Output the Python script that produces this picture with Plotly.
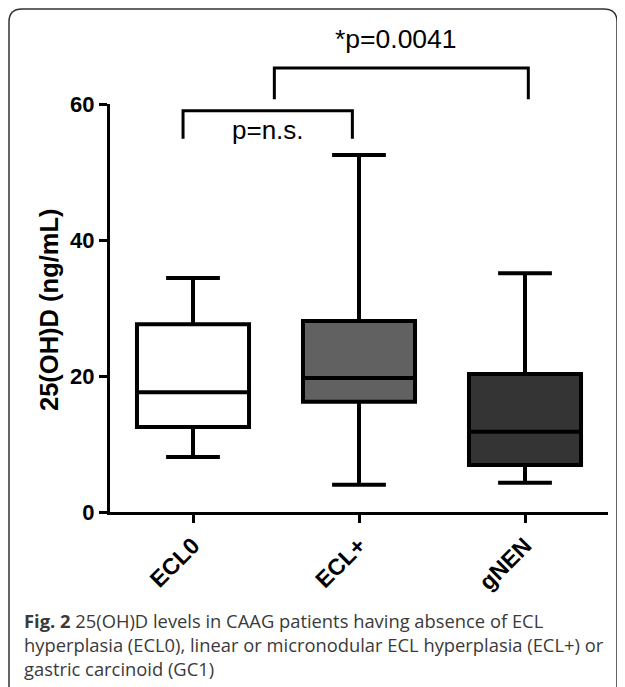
import plotly.graph_objects as go

categories = ["ECL0", "ECL+", "gNEN"]
lower_whisker = [8.1, 4.0, 4.3]
q1_values = [12.5, 16.2, 6.9]
median_values = [17.6, 19.7, 11.8]
q3_values = [27.6, 28.1, 20.3]
upper_whisker = [34.4, 52.5, 35.1]
fill_colors = ["#ffffff", "#616161", "#343434"]
y_ticks = [0, 20, 40, 60]

ns_text = "p=n.s."
sig_text = "*p=0.0041"
y_title = "25(OH)D (ng/mL)"
caption = ("<b>Fig. 2</b> 25(OH)D levels in CAAG patients having absence of ECL<br>"
           "hyperplasia (ECL0), linear or micronodular ECL hyperplasia (ECL+) or<br>"
           "gastric carcinoid (GC1)")

# page body has an 8px margin; figure pixel = reference pixel - 8
W, H = 617, 679
ML, MR, MT, MB = 102, 17, 96, 175
PW, PH = W - ML - MR, H - MT - MB
YMAX = 60
FONT = "Arial, Liberation Sans, Helvetica, sans-serif"


def py(v):
    return v / YMAX


def px_x(p):
    return (p - ML) / PW


def px_y(p):
    return (H - MB - p) / PH


fig = go.Figure()
for i, cat in enumerate(categories):
    fig.add_trace(go.Box(
        x=[cat], q1=[q1_values[i]], median=[median_values[i]], q3=[q3_values[i]],
        lowerfence=[lower_whisker[i]], upperfence=[upper_whisker[i]],
        fillcolor=fill_colors[i], line=dict(color="black", width=4),
        width=0.675, whiskerwidth=0.48, boxpoints=False, showlegend=False,
        hoverinfo="skip",
    ))

shapes = []
# n.s. bracket
ns_x0, ns_x1, ns_top, ns_leg = -0.06, 0.96, 59.0, 54.9
shapes.append(dict(type="path", xref="x", yref="paper",
                   path=f"M {ns_x0} {py(ns_leg)} L {ns_x0} {py(ns_top)} L {ns_x1} {py(ns_top)} L {ns_x1} {py(ns_leg)}",
                   line=dict(color="black", width=3)))
# significant bracket
s_x0, s_x1, s_top, s_leg = 0.49, 2.02, 65.3, 60.7
shapes.append(dict(type="path", xref="x", yref="paper",
                   path=f"M {s_x0} {py(s_leg)} L {s_x0} {py(s_top)} L {s_x1} {py(s_top)} L {s_x1} {py(s_leg)}",
                   line=dict(color="black", width=3)))

# rounded border
bx0, bx1, by0, by1 = px_x(1), px_x(609), px_y(1), px_y(700)
rx, ry = 13 / PW, 13 / PH
border = (f"M {bx0} {by1} L {bx0} {by0 - ry} Q {bx0} {by0} {bx0 + rx} {by0} "
          f"L {bx1 - rx} {by0} Q {bx1} {by0} {bx1} {by0 - ry} L {bx1} {by1}")
shapes.append(dict(type="path", xref="paper", yref="paper", path=border,
                   line=dict(color="#333333", width=1.5)))

annotations = [
    dict(x=(ns_x0 + ns_x1) / 2, y=py(56.2), xref="x", yref="paper", text=ns_text,
         showarrow=False, font=dict(family=FONT, size=26, color="black"),
         xanchor="center", yanchor="middle"),
    dict(x=1.22, y=py(69.6), xref="x", yref="paper", text=sig_text,
         showarrow=False, font=dict(family=FONT, size=26.5, color="black"),
         xanchor="center", yanchor="middle"),
    dict(x=px_x(41), y=px_y(302), xref="paper", yref="paper", text=y_title,
         showarrow=False, textangle=-90, xanchor="center", yanchor="middle",
         font=dict(family=FONT, size=25.5, color="black", weight="bold")),
    dict(x=px_x(14), y=px_y(598), xref="paper", yref="paper", text=caption,
         showarrow=False, align="left", xanchor="left", yanchor="top",
         font=dict(family="Open Sans", size=18.35, color="#3a3a3a")),
]

fig.update_layout(
    width=W, height=H,
    margin=dict(l=ML, r=MR, t=MT, b=MB),
    paper_bgcolor="white", plot_bgcolor="white",
    shapes=shapes, annotations=annotations,
    showlegend=False,
    xaxis=dict(
        type="category", range=[-0.5, 2.5], showgrid=False, zeroline=False,
        showline=True, linecolor="black", linewidth=3,
        ticks="outside", ticklen=8, tickwidth=3, tickcolor="black",
        tickangle=-45,
        tickfont=dict(family=FONT, size=23, color="black", weight="bold"),
        fixedrange=True,
    ),
    yaxis=dict(
        range=[0, YMAX], tickvals=y_ticks, showgrid=False, zeroline=False,
        showline=True, linecolor="black", linewidth=3,
        ticks="outside", ticklen=8, tickwidth=3, tickcolor="black",
        tickfont=dict(family=FONT, size=22, color="black", weight="bold"),
        fixedrange=True,
    ),
)

fig.write_html("out.html")
